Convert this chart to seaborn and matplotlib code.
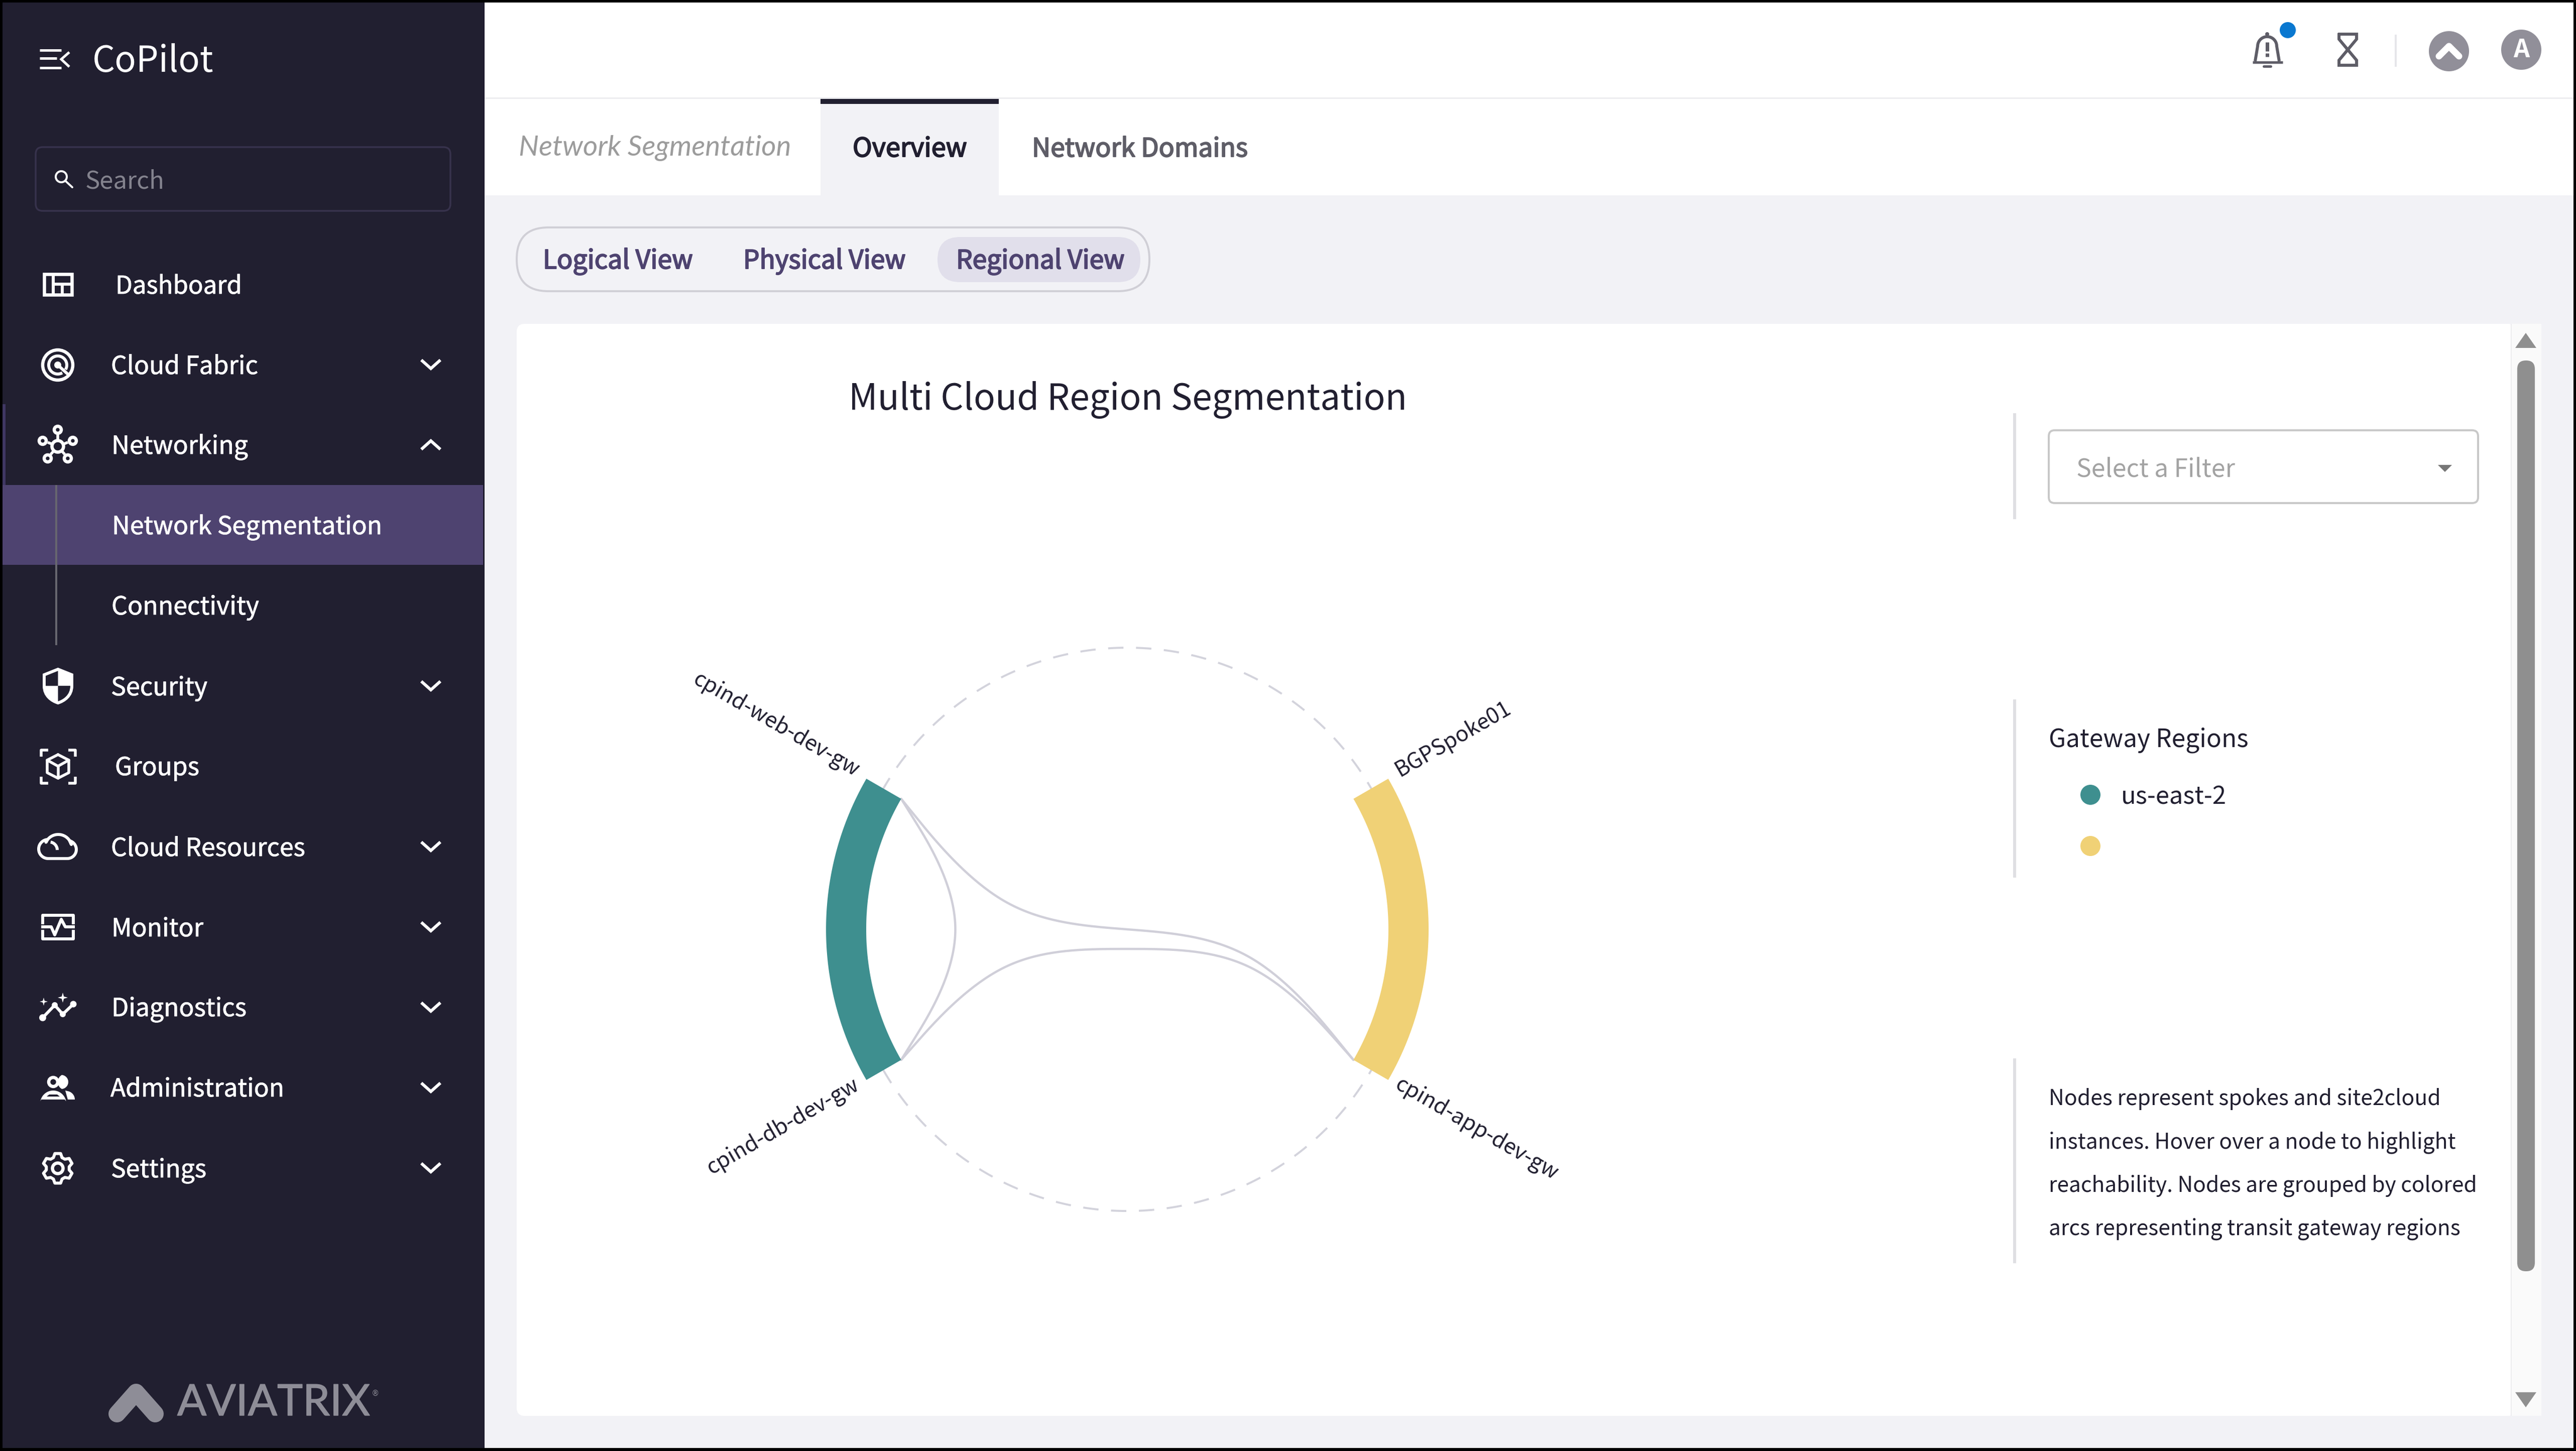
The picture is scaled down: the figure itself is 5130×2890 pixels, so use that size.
import numpy as np
import pandas as pd
import seaborn as sns
import matplotlib
matplotlib.use("Agg")
import matplotlib.pyplot as plt
import matplotlib.patheffects as pe
from matplotlib.patches import Rectangle, FancyBboxPatch, Circle, Polygon, PathPatch
from matplotlib.path import Path

# ---------- data ----------
node_names = ["cpind-web-dev-gw", "cpind-db-dev-gw", "BGPSpoke01", "cpind-app-dev-gw"]
node_angles = [150, 210, 30, -30]
node_groups = ["teal", "teal", "yellow", "yellow"]
group_names = ["teal", "yellow"]
group_centers = [180, 0]
group_half_span = [30, 30]
group_colors = ["#3e8f8f", "#f0d176"]
links = [("cpind-web-dev-gw", "cpind-db-dev-gw"),
         ("cpind-web-dev-gw", "cpind-app-dev-gw"),
         ("cpind-db-dev-gw", "cpind-app-dev-gw")]
legend_labels = ["us-east-2", ""]
menu_labels = ["Dashboard", "Cloud Fabric", "Networking", "Network Segmentation", "Connectivity",
               "Security", "Groups", "Cloud Resources", "Monitor", "Diagnostics", "Administration", "Settings"]
menu_x0 = [230, 221, 222, 223, 222, 221, 229, 221, 222, 222, 220, 221]
menu_x1 = [480, 512, 492, 759, 514, 411, 395, 606, 403, 489, 564, 409]
menu_base = [585, 745, 904, 1064, 1224, 1385, 1544, 1705, 1865, 2024, 2184, 2345]
note_lines = ["Nodes represent spokes and site2cloud", "instances. Hover over a node to highlight",
              "reachability. Nodes are grouped by colored", "arcs representing transit gateway regions"]
note_x1 = [4860, 4890, 4932, 4899]
note_base = [2201, 2288, 2373, 2460]

W, H = 5130, 2890
CX, CY = 2245, 1851
R_IN, R_OUT, R_DASH, R_GROUP, R_LABEL = 520, 600, 561, 260, 620
BETA = 0.85

sns.set_theme(style="white")
FAM = ["Noto Sans CJK SC", "DejaVu Sans"]
plt.rcParams["font.family"] = FAM
plt.rcParams["lines.scale_dashes"] = False
PX = 0.72

DARK, PURPLE, BG = "#211f30", "#4e4370", "#f2f2f6"
fig = plt.figure(figsize=(W / 100, H / 100), dpi=100, facecolor=BG)
ui = fig.add_axes([0, 0, 1, 1], zorder=1)
ui.set_xlim(0, W); ui.set_ylim(H, 0); ui.axis("off")
rend = fig.canvas.get_renderer()


def rect(x0, y0, x1, y1, c, z=1):
    ui.add_patch(Rectangle((x0, y0), x1 - x0, y1 - y0, fc=c, ec="none", zorder=z))


def rbox(x0, y0, x1, y1, r, fc="none", ec="none", lw=0, z=2):
    ui.add_patch(FancyBboxPatch((x0, y0), x1 - x0, y1 - y0, boxstyle=f"round,pad=0,rounding_size={r}",
                                fc=fc, ec=ec, lw=lw * PX, zorder=z))


def fit_size(t, width):
    t.set_fontsize(40)
    t.set_fontsize(40 * width / t.get_window_extent(rend).width)


def txt(s, x0, x1, base, c="white", heavy=0, **kw):
    t = ui.text(x0, base, s, ha="left", va="baseline", color=c, zorder=5, **kw)
    fit_size(t, x1 - x0 + 2)
    if heavy:
        t.set_path_effects([pe.withStroke(linewidth=heavy * PX, foreground=c)])
    return t


def pl(xy, c="white", lw=6, z=4, cap="round", join="round", closed=False):
    a = np.asarray(xy, float)
    if closed:
        a = np.vstack([a, a[:1]])
    ui.plot(a[:, 0], a[:, 1], color=c, lw=lw * PX, zorder=z, solid_capstyle=cap, solid_joinstyle=join)


def poly(xy, c="white", z=4):
    ui.add_patch(Polygon(np.asarray(xy, float), closed=True, fc=c, ec="none", zorder=z))


def circ(x, y, r, fc="none", ec="white", lw=6, z=4):
    ui.add_patch(Circle((x, y), r, fc=fc, ec=ec, lw=lw * PX, zorder=z))


def arc(cx, cy, r, a0, a1, n=24):
    a = np.radians(np.linspace(a0, a1, n))
    return np.column_stack([cx + r * np.cos(a), cy - r * np.sin(a)])


def star(x, y, r, c="white"):
    k = r * 0.22
    poly([(x, y - r), (x + k, y - k), (x + r, y), (x + k, y + k), (x, y + r), (x - k, y + k), (x - r, y), (x - k, y - k)], c)


# ---------- frame ----------
rect(0, 0, 965, H, DARK)
rect(965, 0, W, 389, "white")
rect(965, 194, W, 197, "#ececef", 2)
rect(1634, 197, 1989, 389, BG, 2)
rect(1634, 197, 1989, 207, DARK, 3)

# ---------- sidebar ----------
rect(5, 966, 962, 1125, PURPLE, 2)
rect(5, 805, 11, 966, "#3f3763", 2)
rect(110, 966, 114, 1285, "#67666f", 3)
txt("CoPilot", 184, 424, 143)
pl([(79, 100), (122, 100)], lw=5, cap="butt"); pl([(79, 116), (113, 116)], lw=5, cap="butt"); pl([(79, 135), (122, 135)], lw=5, cap="butt")
pl([(138, 104), (122, 118), (138, 133)], lw=5, cap="butt", join="miter")
rbox(71, 293, 897, 420, 14, ec="#37324c", lw=3.5)
circ(122, 352, 11, lw=4); pl([(130, 360), (144, 373)], lw=4)
txt("Search", 170, 326, 375, c="#84838e")
for s, a, b, y in zip(menu_labels, menu_x0, menu_x1, menu_base):
    txt(s, a, b, y, heavy=0.8)
row = lambda i: 566 + 160 * i
for i in [1, 5, 7, 8, 9, 10, 11]:
    y = row(i)
    pl([(839, y - 9), (858, y + 8), (877, y - 9)], lw=6, cap="butt", join="miter")
y = row(2)
pl([(839, y + 9), (858, y - 8), (877, y + 9)], lw=6, cap="butt", join="miter")

# dashboard icon
ui.add_patch(Rectangle((88, 546), 55, 41, fc="none", ec="white", lw=6.5 * PX, zorder=4))
pl([(106, 546), (106, 587)], lw=6, cap="butt"); pl([(106, 566), (143, 566)], lw=6, cap="butt"); pl([(124, 566), (124, 587)], lw=6, cap="butt")
# fabric icon
circ(115, 727, 30, lw=6.5)
pl(arc(115, 727, 18, -30, 300, 40), lw=6, cap="butt")
circ(115, 727, 7, fc="white", lw=0)
pl([(115, 727), (136, 746)], lw=6, cap="butt")
# networking icon
circ(115, 889, 11.5, lw=6.5)
for x, y in [(115, 856), (85, 878), (145, 878), (95, 913), (135, 913)]:
    circ(x, y, 7, lw=6.5)
for x, y in [(115, 866), (95, 881), (135, 881), (101, 905), (129, 905)]:
    pl([(115 + (x - 115) * .6, 889 + (y - 889) * .6), (x, y)], lw=5.5, cap="butt")
# shield icon
shield = Path([(115.5, 1333), (88, 1344), (88, 1366), (88, 1386), (103, 1396), (115.5, 1400),
               (128, 1396), (143, 1386), (143, 1366), (143, 1344), (115.5, 1333)],
              [1, 2, 2, 4, 4, 4, 4, 4, 4, 2, 79])
ui.add_patch(PathPatch(shield, fc="none", ec="white", lw=6 * PX, zorder=4))
poly([(115.5, 1331), (145, 1343), (145, 1366), (115.5, 1366)])
ui.add_patch(PathPatch(Path([(88, 1366), (115.5, 1366), (115.5, 1400), (103, 1396), (88, 1386), (88, 1366)],
                            [1, 2, 2, 4, 4, 4]), fc="white", ec="none", zorder=4))
# groups icon
hexa = [(115.5, 1503), (137, 1514), (137, 1539), (115.5, 1550), (94, 1539), (94, 1514)]
pl(hexa, lw=5.5, closed=True)
pl([(94, 1514), (115.5, 1526), (137, 1514)], lw=5.5); pl([(115.5, 1526), (115.5, 1550)], lw=5.5)
for sx, sy in [(-1, -1), (1, -1), (-1, 1), (1, 1)]:
    pl([(115.5 + sx * 34, 1526.5 + sy * 20), (115.5 + sx * 34, 1526.5 + sy * 33), (115.5 + sx * 20, 1526.5 + sy * 33)], lw=5.5, cap="butt")
# cloud icon
cloud = np.vstack([arc(96, 1691, 19, 270, 95), arc(116, 1689, 27, 155, 15), arc(134, 1692, 18, 75, -90)])
pl(cloud, lw=6, closed=True)
pl(arc(98, 1693, 16, 80, 0), lw=6, cap="butt")
# monitor icon
pl([(85, 1841), (85, 1823), (146, 1823), (146, 1841)], lw=6, cap="butt")
pl([(85, 1852), (85, 1870), (146, 1870), (146, 1852)], lw=6, cap="butt")
pl([(82, 1846), (102, 1846), (109, 1862), (122, 1831), (130, 1846), (149, 1846)], lw=6, cap="butt")
# diagnostics icon
pts = [(85, 2027), (109, 2002), (125, 2020), (146, 2000)]
pl(pts, lw=6)
for (x, y), r in zip(pts, [7, 6, 6, 6.5]):
    circ(x, y, r, fc="white", lw=0)
star(125, 1987, 10); star(87, 1995, 8)
# admin icon
circ(106, 2155, 9, lw=6.5)
poly(np.vstack([arc(122, 2155, 14, 90, -90), arc(131, 2155, 16, -120, -240)]))
poly(np.vstack([arc(106, 2198, 26, 170, 10), [(129, 2190), (82, 2190)]]))
poly([(93, 2184), (119, 2184), (114, 2180), (98, 2180)], DARK, 5)
poly(np.vstack([[(130, 2172)], arc(132, 2190, 17, 80, 0), [(135, 2190)]]))
# settings icon
gear = []
for a in np.arange(0, 360, 60) + 90:
    gear += [arc(115, 2327, 23, a - 22, a - 22, 1)[0], arc(115, 2327, 30, a - 11, a - 11, 1)[0],
             arc(115, 2327, 30, a + 11, a + 11, 1)[0], arc(115, 2327, 23, a + 22, a + 22, 1)[0]]
pl(gear, lw=6, closed=True)
circ(115, 2327, 10.5, lw=6.5)
# logo
pl([(233, 2816), (271, 2773), (309, 2816)], c="#8e8d97", lw=34, join="round")
txt("AVIATRIX", 353, 735, 2819, c="#8e8d97", family="Lato", heavy=1.5)
ui.text(747, 2775, "®", color="#8e8d97", fontsize=11, ha="center", va="center", zorder=5, family="DejaVu Sans")

# ---------- top bar ----------
bell = "#5e5d67"
pl(np.vstack([[(4491, 122)], arc(4515, 92, 19, 180, 0), [(4539, 122)]]), c=bell, lw=6, cap="butt")
pl([(4486, 124), (4546, 124)], c=bell, lw=5, cap="butt")
circ(4515, 68, 4, fc=bell, ec="none", lw=0)
pl([(4515, 84), (4515, 102)], c=bell, lw=7, cap="butt"); pl([(4515, 106), (4515, 113)], c=bell, lw=7, cap="butt")
pl([(4508, 132), (4522, 132)], c=bell, lw=5)
circ(4556, 60, 16, fc="#0a78d0", ec="none", lw=0)
pl([(4658, 68), (4693, 68), (4693, 78), (4658, 120), (4658, 130), (4693, 130), (4693, 120), (4658, 78)], c=bell, lw=6, join="miter", closed=True)
rect(4769, 69, 4773, 133, "#e6e6ea", 3)
circ(4877, 102, 40, fc="#918f99", ec="none", lw=0)
pl([(4857, 112), (4877, 92), (4897, 112)], lw=13)
circ(5021, 99, 40, fc="#918f99", ec="none", lw=0)
ui.text(5021, 99, "A", color="white", fontsize=36, weight="bold", ha="center", va="center", zorder=5)

# ---------- tabs ----------
txt("Network Segmentation", 1033, 1572, 309, c="#9c9c9c", family="Lato", style="italic")
txt("Overview", 1698, 1924, 312, c=DARK, heavy=2)
txt("Network Domains", 2055, 2483, 312, c="#5e5d67", heavy=2)
rbox(1029, 453, 2289, 580, 63, ec="#d0cfd6", lw=4)
rbox(1867, 472, 2271, 562, 45, fc="#e1dfeb")
txt("Logical View", 1081, 1378, 535, c=PURPLE, heavy=2)
txt("Physical View", 1480, 1802, 535, c=PURPLE, heavy=2)
txt("Regional View", 1904, 2238, 535, c=PURPLE, heavy=2)

# ---------- card ----------
rbox(1029, 645, 5010, 2820, 16, fc="white")
rect(5000, 645, 5061, 2820, "#fafafa", 3)
rect(5000, 645, 5002, 2820, "#ececef", 3)
rbox(5013, 718, 5048, 2532, 17, fc="#8f8f8f", z=4)
poly([(5030, 663), (5051, 693), (5009, 693)], "#8f8f8f")
poly([(5030, 2803), (5051, 2773), (5009, 2773)], "#8f8f8f")
txt("Multi Cloud Region Segmentation", 1690, 2801, 816, c=DARK)
for y0, y1 in [(823, 1034), (1393, 1748), (2108, 2516)]:
    rect(4009, y0, 4015, y1, "#dfdfe3", 3)
rbox(4080, 857, 4935, 1002, 12, ec="#c8c8c8", lw=4)
txt("Select a Filter", 4135, 4449, 949, c="#a3a3a3")
poly([(4855, 926), (4883, 926), (4869, 940)], "#777777")
txt("Gateway Regions", 4080, 4476, 1487, c=DARK)
legend_df = pd.DataFrame({"x": [4163, 4163], "y": [1583, 1685], "g": legend_labels})
sns.scatterplot(data=legend_df, x="x", y="y", hue="g", palette=group_colors, s=(40 * PX) ** 2, linewidth=0,
                legend=False, ax=ui, zorder=5)
ui.set_xlim(0, W); ui.set_ylim(H, 0); ui.axis("off")
txt(legend_labels[0], 4224, 4432, 1602, c=DARK)
for s, x1, y in zip(note_lines, note_x1, note_base):
    txt(s, 4080, x1, y, c=DARK)

# ---------- chord diagram ----------
ch = fig.add_axes([0, 0, 1, 1], zorder=2)
ch.patch.set_alpha(0)
ch.set_xlim(-CX, W - CX); ch.set_ylim(-(H - CY), CY); ch.axis("off")


def polar(r, deg):
    return np.array([r * np.cos(np.radians(deg)), r * np.sin(np.radians(deg))])


def basis(p):
    p = [np.asarray(q, float) for q in p]
    out = [p[0], (5 * p[0] + p[1]) / 6]
    seq = p + [p[-1]]
    t = np.linspace(0, 1, 40)[1:, None]
    for k in range(2, len(seq)):
        a, b, c = seq[k - 2], seq[k - 1], seq[k]
        s, c1, c2, e = out[-1], (2 * a + b) / 3, (a + 2 * b) / 3, (a + 4 * b + c) / 6
        out.extend((1 - t) ** 3 * s + 3 * (1 - t) ** 2 * t * c1 + 3 * (1 - t) * t ** 2 * c2 + t ** 3 * e)
    out.append(p[-1])
    return np.array(out)


def bundle_path(a, b):
    ia, ib = node_names.index(a), node_names.index(b)
    ga, gb = node_groups[ia], node_groups[ib]
    pa, pb = polar(R_IN, node_angles[ia]), polar(R_IN, node_angles[ib])
    mid_a = polar(R_GROUP, group_centers[group_names.index(ga)])
    mid_b = polar(R_GROUP, group_centers[group_names.index(gb)])
    ctrl = [pa, mid_a, pb] if ga == gb else [pa, mid_a, np.zeros(2), mid_b, pb]
    n = len(ctrl)
    ctrl = [BETA * c + (1 - BETA) * (pa + (pb - pa) * i / (n - 1)) for i, c in enumerate(ctrl)]
    return basis(ctrl)


th = np.linspace(0, 360, 721)
ring = pd.DataFrame({"x": R_DASH * np.cos(np.radians(th)), "y": R_DASH * np.sin(np.radians(th))})
sns.lineplot(data=ring, x="x", y="y", sort=False, estimator=None, color="#d3d3dc", lw=4 * PX, ax=ch, zorder=1)
ch.lines[-1].set_linestyle((0, (22, 18)))

for a, b in links:
    c = bundle_path(a, b)
    sns.lineplot(x=c[:, 0], y=c[:, 1], sort=False, estimator=None, color="#d0cfd9", lw=4.5 * PX, ax=ch, zorder=2)

for g, mid, half, col in zip(group_names, group_centers, group_half_span, group_colors):
    t = np.linspace(mid - half, mid + half, 80)
    out = np.column_stack([R_OUT * np.cos(np.radians(t)), R_OUT * np.sin(np.radians(t))])
    inn = np.column_stack([R_IN * np.cos(np.radians(t)), R_IN * np.sin(np.radians(t))])[::-1]
    ch.fill(*np.vstack([out, inn]).T, color=col, lw=0, zorder=3)

probe = ch.text(0, 0, "BGPSpoke01", alpha=0)
fit_size(probe, 259)
label_size = probe.get_fontsize()
probe.remove()
for name, deg in zip(node_names, node_angles):
    left = 90 < deg < 270
    x, y = polar(R_LABEL, deg)
    ch.text(x, y + 4, name, color=DARK, ha="right" if left else "left", va="center", rotation=deg - 180 if left else deg,
            rotation_mode="anchor", zorder=4, fontsize=label_size)

# ---------- window border ----------
for r in [(0, 0, W, 5), (0, H - 6, W, H), (0, 0, 5, H), (W - 5, 0, W, H)]:
    ui.add_patch(Rectangle((r[0], r[1]), r[2] - r[0], r[3] - r[1], fc="black", ec="none", zorder=20))

fig.savefig("out.png", dpi=100, facecolor=BG)
